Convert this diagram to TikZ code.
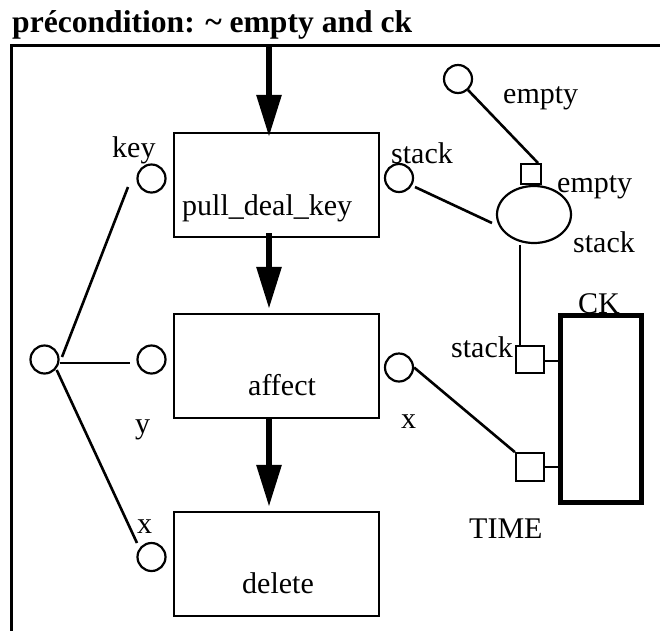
\documentclass[tikz,border=0pt]{standalone}
\usepackage{fontspec}
\setmainfont{Liberation Serif}
\usetikzlibrary{arrows.meta,shapes.geometric}
\begin{document}
\begin{tikzpicture}[x=1pt,y=-1pt,
  port/.style={draw,circle,line width=2.2pt,minimum size=28pt,inner sep=0pt},
  smallsq/.style={draw,rectangle,line width=2.2pt,minimum size=20pt,inner sep=0pt},
  timesq/.style={draw,rectangle,line width=2.2pt,minimum width=28pt,minimum height=27.5pt,inner sep=0pt},
  act/.style={draw,rectangle,line width=2.4pt,minimum width=205pt,minimum height=104pt,inner sep=0pt},
  lbl/.style={anchor=base west,inner sep=0pt,font=\fontsize{30}{36}\selectfont},
  wire/.style={line width=2.6pt},
  flow/.style={line width=6pt,-{Triangle[width=24pt,length=42pt]}},
]
\useasboundingbox (0,0) rectangle (660,630);

% title and frame
\node[anchor=base west,inner sep=0pt,font=\fontsize{31.6}{38}\selectfont\bfseries] (title) at (12,32) {précondition: \textasciitilde{} empty and ck};
\draw[line width=2.5pt] (11.7,631) -- (11.7,45.5) -- (661,45.5);
\coordinate (ftop) at (269,45.5);

% action boxes
\node[act] (pdk) at (276.5,185) {};
\node[act] (affect) at (276.5,366) {};
\node[act] (delete) at (276.5,564) {};
\node[lbl] (pdktext) at (182,215) {pull\_deal\_key};
\node[lbl] (affecttext) at (248,395) {affect};
\node[lbl] (deletetext) at (242,593) {delete};

% flow arrows
\draw[flow,shorten >=-5pt] (ftop) -- (pdk.north -| ftop);
\draw[flow,shorten <=-5pt,shorten >=4pt] (pdk.south -| ftop) -- (affect.north -| ftop);
\draw[flow,shorten <=-2pt,shorten >=4pt] (affect.south -| ftop) -- (delete.north -| ftop);

% ports
\node[port] (key) at (151.5,178.5) {};
\node[port] (yport) at (151.5,359.5) {};
\node[port] (xport) at (151.5,557) {};
\node[port] (fork) at (44.5,359.5) {};
\node[port] (stackp) at (399,178) {};
\node[port] (xout) at (399,367.5) {};
\node[port] (emptyc) at (458,79) {};

\node[smallsq] (sq1) at (531,174) {};
\node[draw,ellipse,line width=2.2pt,minimum width=74pt,minimum height=57pt,inner sep=0pt] (ell) at (534,214.5) {};
\node[timesq] (sq2) at (530,359.5) {};
\node[timesq] (sq3) at (530,467) {};
\node[draw,rectangle,line width=5pt,minimum width=81pt,minimum height=187pt,inner sep=0pt] (ck) at (601,409) {};

% labels
\node[lbl] (lkey) at (112,157) {key};
\node[lbl] (lstack1) at (391,163) {stack};
\node[lbl] (lempty1) at (503,103) {empty};
\node[lbl] (lempty2) at (557,192) {empty};
\node[lbl] (lstack2) at (573,252) {stack};
\node[lbl] (lstack3) at (451,357) {stack};
\node[lbl] (ly) at (135,433) {y};
\node[lbl] (lx1) at (137,533) {x};
\node[lbl] (lx2) at (401,428) {x};
\node[lbl] (lck) at (578,313) {CK};
\node[lbl] (ltime) at (469,538) {TIME};

% wires
\draw[wire] ([shift={(17.5pt,2.5pt)}]fork.center) -- ([shift={(-23.5pt,-8.5pt)}]key.center);
\draw[wire] ([shift={(15.5pt,-3.5pt)}]fork.center) -- ([shift={(-21.5pt,-3.5pt)}]yport.center);
\draw[wire] ([shift={(12.2pt,-10.5pt)}]fork.center) -- ([shift={(-14.5pt,14pt)}]xport.center);
\draw[wire] ([shift={(16pt,-9pt)}]stackp.center) -- ([shift={(-42pt,-8.5pt)}]ell.center);
\draw[wire] ([shift={(10pt,-11pt)}]emptyc.center) -- ([shift={(7pt,11pt)}]sq1.center);
\draw[wire] ([shift={(-14pt,-30.5pt)}]ell.center) -- ([shift={(-10pt,14pt)}]sq2.center);
\draw[wire] (xout.east) -- (sq3.north west);
\draw[wire] ([yshift=-1.5pt]sq2.east) -- ([yshift=-1.5pt]sq2.east -| ck.west);
\draw[wire] (sq3.east) -- (sq3.east -| ck.west);
\end{tikzpicture}
\end{document}
